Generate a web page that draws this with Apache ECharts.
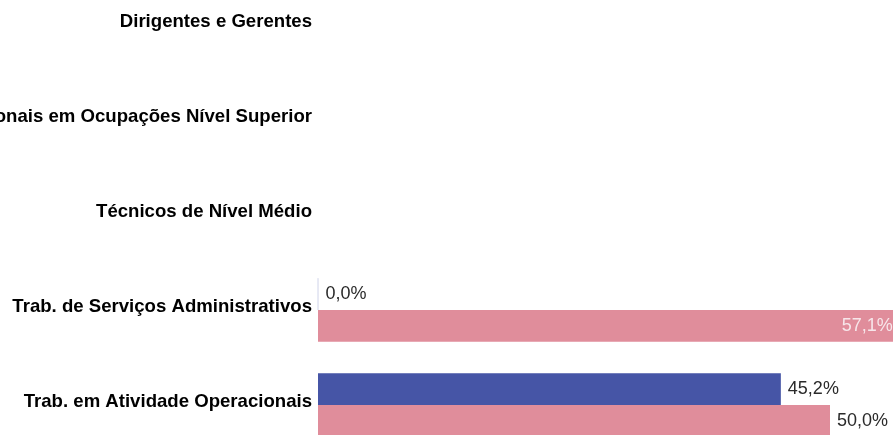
<!DOCTYPE html>
<html>
<head>
<meta charset="utf-8">
<script src="https://cdn.jsdelivr.net/npm/echarts@6/dist/echarts.min.js"></script>
<style>html,body{margin:0;padding:0;background:#fff;}#c{width:893px;height:435px;}</style>
</head>
<body>
<div id="c"></div>
<script>
const categories = ["Dirigentes e Gerentes","Profissionais em Ocupações Nível Superior","Técnicos de Nível Médio","Trab. de Serviços Administrativos","Trab. em Atividade Operacionais"];
const seriesBlue = [null, null, null, 0.0, 45.2];
const seriesPink = [null, null, null, 57.1, 50.0];

const fmt = p => p.value == null ? '' : p.value.toFixed(1).replace('.', ',') + '%';
const chart = echarts.init(document.getElementById('c'));
chart.setOption({
  animation: false,
  grid: { left: 318, top: -22.5, width: 640, height: 475, containLabel: false, outerBoundsMode: 'none' },
  xAxis: { type: 'value', min: 0, max: 62.5, show: false },
  yAxis: {
    type: 'category', data: categories, inverse: true,
    axisLine: { show: false }, axisTick: { show: false },
    axisLabel: { fontFamily: 'Liberation Sans, Arial', fontWeight: 'bold', fontSize: 18.6, color: '#000', margin: 6, verticalAlign: 'bottom', lineHeight: 6 }
  },
  series: [
    {
      name: 'Série 1', type: 'bar', barCategoryGap: '33%', barGap: '0%', clip: false,
      data: seriesBlue.map(v => v === 0 ? { value: v, itemStyle: { borderColor: '#dfe2f0', borderWidth: 1 } } : v),
      itemStyle: { color: '#4655a6' },
      label: { show: true, position: 'right', distance: 7, formatter: fmt, fontFamily: 'Liberation Sans, Arial', fontSize: 18, color: '#2a2a2a' }
    },
    {
      name: 'Série 2', type: 'bar', barCategoryGap: '33%', barGap: '0%', clip: false,
      data: seriesPink.map(v => v === 57.1 ? { value: v, label: { position: 'insideRight', distance: 10, color: '#f7e6ea' } } : v),
      itemStyle: { color: '#e08d9b' },
      label: { show: true, position: 'right', distance: 7, formatter: fmt, fontFamily: 'Liberation Sans, Arial', fontSize: 18, color: '#2a2a2a' }
    }
  ]
});
</script>
</body>
</html>
